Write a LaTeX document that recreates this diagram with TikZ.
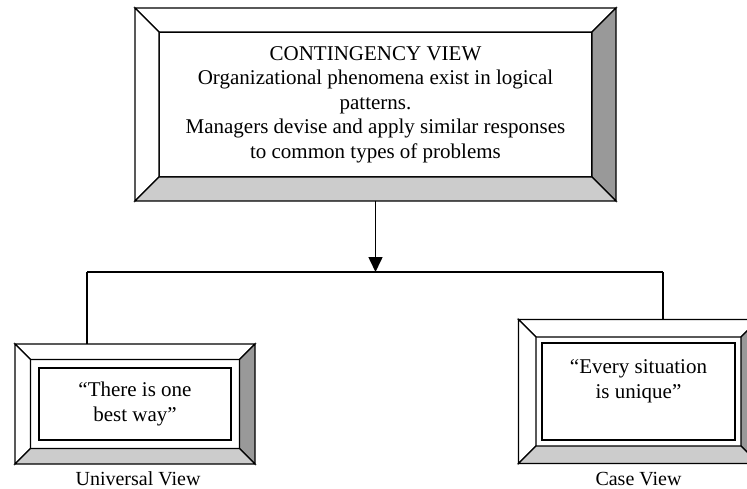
\documentclass[tikz,border=0pt]{standalone}
\usepackage{fontspec}
\setmainfont{Liberation Serif}
\usepackage{tikz}
\usetikzlibrary{arrows, arrows.meta, positioning, calc, fit}

\definecolor{shadedark}{HTML}{999999}
\definecolor{shadelight}{HTML}{CCCCCC}

% bevelled frame between an inner node and an outer (fit) node
\newcommand{\bevel}[2]{%
    \filldraw[bevelline, fill=white] (#2.north west) -- (#2.north east) -- (#1.north east) -- (#1.north west) -- cycle;
    \filldraw[bevelline, fill=white] (#2.north west) -- (#1.north west) -- (#1.south west) -- (#2.south west) -- cycle;
    \filldraw[bevelline, fill=shadedark] (#1.north east) -- (#2.north east) -- (#2.south east) -- (#1.south east) -- cycle;
    \filldraw[bevelline, fill=shadelight] (#1.south west) -- (#1.south east) -- (#2.south east) -- (#2.south west) -- cycle;}

\begin{document}
\begin{tikzpicture}[
    x=1pt, y=-1pt,
    bevelline/.style={line width=1.3pt, line join=miter},
    panel/.style={rectangle, draw, line width=1.3pt, fill=white, align=center, inner sep=0pt, outer sep=0pt, font=\fontsize{21}{24.5}\selectfont},
    frame/.style={rectangle, inner sep=#1, outer sep=0pt},
    caption/.style={anchor=base, inner sep=0pt, font=\fontsize{20}{24}\selectfont},
    link/.style={line width=1.6pt}
]
    \clip (0,0) rectangle (747,489);
    \useasboundingbox (0,0) rectangle (747,489);

    % top box
    \node (cv) [panel, minimum width=433pt, minimum height=145pt] at (375.5,104.5) {CONTINGENCY VIEW \\ Organizational phenomena exist in logical \\ patterns. \\ Managers devise and apply similar responses \\ to common types of problems};
    \node (cvframe) [frame=24pt, fit=(cv)] {};
    \bevel{cv}{cvframe}

    % lower boxes
    \node (uv) [panel, minimum width=192pt, minimum height=72pt] at (135,404) {“There is one \\ best way”};
    \node (uvedge) [frame=8.5pt, fit=(uv)] {};
    \node (uvframe) [frame=15.5pt, fit=(uvedge)] {};
    \bevel{uvedge}{uvframe}

    \node (cs) [panel, minimum width=193pt, minimum height=97pt] at (638.5,391.5) {“Every situation \\ is unique” \\ \mbox{}};
    \node (csedge) [frame=6pt, fit=(cs)] {};
    \node (csframe) [frame=17.5pt, fit=(csedge)] {};
    \bevel{csedge}{csframe}

    \node (uvlabel) [caption] at (138,485) {Universal View};
    \node (cslabel) [caption] at (638.5,485) {Case View};

    % connectors
    \coordinate (lcorner) at (87,272);
    \coordinate (rcorner) at (663,272);
    \draw[link] (lcorner) -- (rcorner);
    \draw[link] (lcorner) -- (lcorner |- uvframe.north);
    \draw[link] (rcorner) -- (rcorner |- csframe.north);
    \draw[link, ->, >={Triangle[length=15pt, width=14pt]}] (cvframe.south) -- (cvframe.south |- lcorner);
\end{tikzpicture}
\end{document}
